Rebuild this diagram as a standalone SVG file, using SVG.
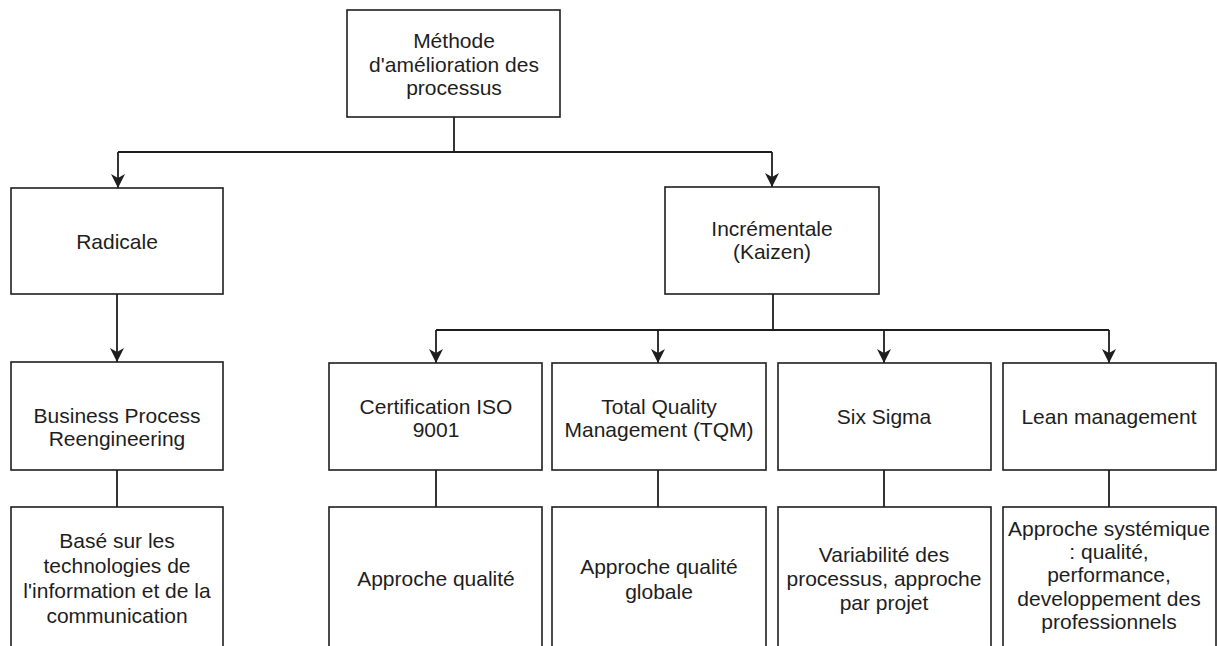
<svg xmlns="http://www.w3.org/2000/svg" width="1217" height="646" viewBox="0 0 1217 646">
  <defs>
    <marker id="arrow" viewBox="0 0 14 14" refX="14" refY="7" markerWidth="14" markerHeight="14" markerUnits="userSpaceOnUse" orient="auto">
      <path d="M0,0 L14,7 L0,14 L4,7 Z" fill="#1e1e1e"/>
    </marker>
    <style>
      .box { fill: #ffffff; stroke: #1e1e1e; stroke-width: 1.6; }
      .wire { fill: none; stroke: #1e1e1e; stroke-width: 1.8; }
      .label { font-family: "Liberation Sans", Arial, sans-serif; font-size: 21px; fill: #1e1e1e; text-anchor: middle; }
    </style>
  </defs>
  <rect width="1217" height="646" fill="#ffffff"/>

  <!-- connectors -->
  <g id="connectors">
    <path class="wire" d="M454,117 V152"/>
    <path class="wire" d="M118,152 H772"/>
    <path class="wire" d="M118,152 V188" marker-end="url(#arrow)"/>
    <path class="wire" d="M772,152 V187" marker-end="url(#arrow)"/>
    <path class="wire" d="M117,294 V362" marker-end="url(#arrow)"/>
    <path class="wire" d="M773,294 V330"/>
    <path class="wire" d="M436,330 H1109"/>
    <path class="wire" d="M436,330 V363" marker-end="url(#arrow)"/>
    <path class="wire" d="M658,330 V363" marker-end="url(#arrow)"/>
    <path class="wire" d="M884,330 V363" marker-end="url(#arrow)"/>
    <path class="wire" d="M1109,330 V363" marker-end="url(#arrow)"/>
    <path class="wire" d="M117,470 V507"/>
    <path class="wire" d="M436,470 V507"/>
    <path class="wire" d="M658,470 V507"/>
    <path class="wire" d="M884,470 V507"/>
    <path class="wire" d="M1109,470 V507"/>
  </g>

  <g id="methode">
    <rect class="box" x="347" y="10" width="213" height="107"/>
    <text class="label" x="454" y="48">Méthode</text>
    <text class="label" x="454" y="72">d'amélioration des</text>
    <text class="label" x="454" y="95">processus</text>
  </g>

  <g id="radicale">
    <rect class="box" x="11" y="188" width="212" height="106"/>
    <text class="label" x="117" y="249">Radicale</text>
  </g>

  <g id="incrementale">
    <rect class="box" x="665" y="187" width="214" height="107"/>
    <text class="label" x="772" y="236">Incrémentale</text>
    <text class="label" x="772" y="259">(Kaizen)</text>
  </g>

  <g id="bpr">
    <rect class="box" x="11" y="362" width="212" height="108"/>
    <text class="label" x="117" y="423">Business Process</text>
    <text class="label" x="117" y="446">Reengineering</text>
  </g>

  <g id="iso9001">
    <rect class="box" x="329" y="363" width="213" height="107"/>
    <text class="label" x="436" y="414">Certification ISO</text>
    <text class="label" x="436" y="437">9001</text>
  </g>

  <g id="tqm">
    <rect class="box" x="552" y="363" width="214" height="107"/>
    <text class="label" x="659" y="414">Total Quality</text>
    <text class="label" x="659" y="437">Management (TQM)</text>
  </g>

  <g id="sixsigma">
    <rect class="box" x="778" y="363" width="213" height="107"/>
    <text class="label" x="884" y="424">Six Sigma</text>
  </g>

  <g id="lean">
    <rect class="box" x="1003" y="363" width="213" height="107"/>
    <text class="label" x="1109" y="424">Lean management</text>
  </g>

  <g id="tic">
    <rect class="box" x="11" y="507" width="212" height="160"/>
    <text class="label" x="117" y="548">Basé sur les</text>
    <text class="label" x="117" y="573">technologies de</text>
    <text class="label" x="117" y="598">l'information et de la</text>
    <text class="label" x="117" y="623">communication</text>
  </g>

  <g id="qualite">
    <rect class="box" x="329" y="507" width="213" height="160"/>
    <text class="label" x="436" y="586">Approche qualité</text>
  </g>

  <g id="qualite-globale">
    <rect class="box" x="552" y="507" width="214" height="160"/>
    <text class="label" x="659" y="574">Approche qualité</text>
    <text class="label" x="659" y="599">globale</text>
  </g>

  <g id="variabilite">
    <rect class="box" x="778" y="507" width="213" height="160"/>
    <text class="label" x="884" y="562">Variabilité des</text>
    <text class="label" x="884" y="586">processus, approche</text>
    <text class="label" x="884" y="610">par projet</text>
  </g>

  <g id="systemique">
    <rect class="box" x="1003" y="507" width="213" height="160"/>
    <text class="label" x="1109" y="536">Approche systémique</text>
    <text class="label" x="1109" y="559">: qualité,</text>
    <text class="label" x="1109" y="582">performance,</text>
    <text class="label" x="1109" y="606">developpement des</text>
    <text class="label" x="1109" y="629">professionnels</text>
  </g>
</svg>
